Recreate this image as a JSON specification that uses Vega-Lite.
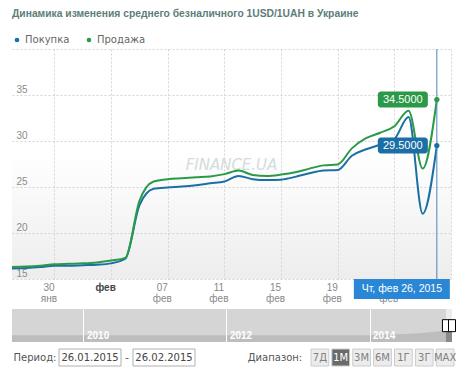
{
  "$schema": "https://vega.github.io/schema/vega-lite/v6.json",
  "padding": {"left": 8, "top": 8, "right": 0, "bottom": 0},
  "background": "#ffffff",
  "title": {"text": "Динамика изменения среднего безналичного 1USD/1UAH в Украине", "anchor": "start", "dx": 4, "font": "Liberation Sans", "fontSize": 10.3, "fontWeight": "bold", "color": "#5c7d7a", "offset": 16},
  "config": {"view": {"stroke": null}, "font": "Liberation Sans", "concat": {"spacing": 6}},
  "spacing": 6,
  "datasets": {
    "rates": [
      {"date": "2015/01/27", "series": "Покупка", "value": 16.15}, {"date": "2015/01/27", "series": "Продажа", "value": 16.3},
      {"date": "2015/01/28", "series": "Покупка", "value": 16.2}, {"date": "2015/01/28", "series": "Продажа", "value": 16.35},
      {"date": "2015/01/29", "series": "Покупка", "value": 16.3}, {"date": "2015/01/29", "series": "Продажа", "value": 16.45},
      {"date": "2015/01/30", "series": "Покупка", "value": 16.45}, {"date": "2015/01/30", "series": "Продажа", "value": 16.6},
      {"date": "2015/01/31", "series": "Покупка", "value": 16.45}, {"date": "2015/01/31", "series": "Продажа", "value": 16.65},
      {"date": "2015/02/01", "series": "Покупка", "value": 16.5}, {"date": "2015/02/01", "series": "Продажа", "value": 16.7},
      {"date": "2015/02/02", "series": "Покупка", "value": 16.55}, {"date": "2015/02/02", "series": "Продажа", "value": 16.8},
      {"date": "2015/02/03", "series": "Покупка", "value": 16.7}, {"date": "2015/02/03", "series": "Продажа", "value": 17.0},
      {"date": "2015/02/04", "series": "Покупка", "value": 17.2}, {"date": "2015/02/04", "series": "Продажа", "value": 17.3},
      {"date": "2015/02/05", "series": "Покупка", "value": 23.0}, {"date": "2015/02/05", "series": "Продажа", "value": 23.5},
      {"date": "2015/02/06", "series": "Покупка", "value": 24.8}, {"date": "2015/02/06", "series": "Продажа", "value": 25.6},
      {"date": "2015/02/07", "series": "Покупка", "value": 24.95}, {"date": "2015/02/07", "series": "Продажа", "value": 25.85},
      {"date": "2015/02/08", "series": "Покупка", "value": 25.05}, {"date": "2015/02/08", "series": "Продажа", "value": 25.95},
      {"date": "2015/02/09", "series": "Покупка", "value": 25.2}, {"date": "2015/02/09", "series": "Продажа", "value": 26.05},
      {"date": "2015/02/10", "series": "Покупка", "value": 25.4}, {"date": "2015/02/10", "series": "Продажа", "value": 26.15},
      {"date": "2015/02/11", "series": "Покупка", "value": 25.6}, {"date": "2015/02/11", "series": "Продажа", "value": 26.4},
      {"date": "2015/02/12", "series": "Покупка", "value": 26.2}, {"date": "2015/02/12", "series": "Продажа", "value": 26.8},
      {"date": "2015/02/13", "series": "Покупка", "value": 25.85}, {"date": "2015/02/13", "series": "Продажа", "value": 26.3},
      {"date": "2015/02/14", "series": "Покупка", "value": 25.75}, {"date": "2015/02/14", "series": "Продажа", "value": 26.2},
      {"date": "2015/02/15", "series": "Покупка", "value": 25.8}, {"date": "2015/02/15", "series": "Продажа", "value": 26.35},
      {"date": "2015/02/16", "series": "Покупка", "value": 26.1}, {"date": "2015/02/16", "series": "Продажа", "value": 26.6},
      {"date": "2015/02/17", "series": "Покупка", "value": 26.5}, {"date": "2015/02/17", "series": "Продажа", "value": 27.0},
      {"date": "2015/02/18", "series": "Покупка", "value": 26.8}, {"date": "2015/02/18", "series": "Продажа", "value": 27.35},
      {"date": "2015/02/19", "series": "Покупка", "value": 26.85}, {"date": "2015/02/19", "series": "Продажа", "value": 27.45},
      {"date": "2015/02/20", "series": "Покупка", "value": 28.4}, {"date": "2015/02/20", "series": "Продажа", "value": 29.2},
      {"date": "2015/02/21", "series": "Покупка", "value": 29.1}, {"date": "2015/02/21", "series": "Продажа", "value": 30.3},
      {"date": "2015/02/22", "series": "Покупка", "value": 29.6}, {"date": "2015/02/22", "series": "Продажа", "value": 30.9},
      {"date": "2015/02/23", "series": "Покупка", "value": 30.2}, {"date": "2015/02/23", "series": "Продажа", "value": 31.6},
      {"date": "2015/02/24", "series": "Покупка", "value": 32.6}, {"date": "2015/02/24", "series": "Продажа", "value": 33.3},
      {"date": "2015/02/25", "series": "Покупка", "value": 22.1}, {"date": "2015/02/25", "series": "Продажа", "value": 27.0},
      {"date": "2015/02/26", "series": "Покупка", "value": 29.5}, {"date": "2015/02/26", "series": "Продажа", "value": 34.5}
    ],
    "nav": [
      {"d": "2009/01/01", "v": 8.0}, {"d": "2010/01/01", "v": 8.0}, {"d": "2011/01/01", "v": 8.0},
      {"d": "2012/01/01", "v": 8.0}, {"d": "2013/01/01", "v": 8.0}, {"d": "2014/01/01", "v": 8.05},
      {"d": "2014/04/01", "v": 8.9}, {"d": "2014/07/01", "v": 9.6}, {"d": "2014/10/01", "v": 10.8},
      {"d": "2014/12/15", "v": 12.5}, {"d": "2015/01/26", "v": 13.4}, {"d": "2015/02/26", "v": 13.6}
    ]
  },
  "vconcat": [
    {
      "width": 439,
      "height": 230,
      "view": {"stroke": null, "fill": {"gradient": "linear", "x1": 0, "y1": 0, "x2": 0, "y2": 1, "stops": [{"offset": 0, "color": "#ffffff"}, {"offset": 0.45, "color": "#ffffff"}, {"offset": 1, "color": "#ededed"}]}},
      "data": {"name": "rates"},
      "layer": [
        {
          "mark": {"type": "text", "text": "FINANCE.UA", "font": "DejaVu Sans", "fontSize": 15, "fontStyle": "italic", "color": "#d3dcdc"},
          "data": {"values": [{}]},
          "encoding": {
            "x": {"datum": {"year": 2015, "month": 2, "date": 11, "hours": 12}, "type": "temporal"},
            "y": {"datum": 27.4, "type": "quantitative"}
          }
        },
        {
          "mark": {"type": "line", "interpolate": "monotone", "strokeWidth": 2},
          "encoding": {
            "x": {"field": "date", "type": "temporal",
              "scale": {"domain": [{"year": 2015, "month": 1, "date": 27}, {"year": 2015, "month": 2, "date": 27}], "nice": false},
              "axis": {
                "title": null,
                "values": [{"year": 2015, "month": 1, "date": 30}, {"year": 2015, "month": 2, "date": 3}, {"year": 2015, "month": 2, "date": 7}, {"year": 2015, "month": 2, "date": 11}, {"year": 2015, "month": 2, "date": 15}, {"year": 2015, "month": 2, "date": 19}, {"year": 2015, "month": 2, "date": 23}, {"year": 2015, "month": 2, "date": 27}],
                "labelExpr": "(month(datum.value) == 1 && date(datum.value) == 27) ? '' : (month(datum.value) == 1 && date(datum.value) == 3) ? 'фев' : [timeFormat(datum.value, '%d'), month(datum.value) == 0 ? 'янв' : 'фев']",
                "labelFontWeight": {"condition": {"test": "month(datum.value) == 1 && date(datum.value) == 3", "value": "bold"}, "value": "normal"},
                "labelColor": {"condition": {"test": "month(datum.value) == 1 && date(datum.value) == 3", "value": "#444444"}, "value": "#888888"},
                "labelFontSize": 10,
                "labelLineHeight": 11,
                "labelOffset": -6,
                "labelPadding": 3,
                "labelOverlap": false,
                "labelFlush": false,
                "domain": false,
                "ticks": false,
                "grid": true,
                "gridDash": [2, 2],
                "gridColor": "#d4d4d4"
              }
            },
            "y": {"field": "value", "type": "quantitative",
              "scale": {"domain": [15, 40], "nice": false, "zero": false},
              "axis": {
                "title": null,
                "values": [15, 20, 25, 30, 35, 40],
                "labelExpr": "datum.value == 40 ? '' : datum.label",
                "labelAlign": "left",
                "labelBaseline": "bottom",
                "labelPadding": -4,
                "labelOffset": -1,
                "labelColor": "#8c8c8c",
                "labelFontSize": 10,
                "domain": false,
                "ticks": false,
                "grid": true,
                "gridDash": [2, 2],
                "gridColor": "#d4d4d4"
              }
            },
            "color": {"field": "series", "type": "nominal",
              "scale": {"domain": ["Покупка", "Продажа"], "range": ["#1b6fa5", "#2a9a48"]},
              "legend": {"orient": "top", "title": null, "direction": "horizontal", "symbolType": "circle", "symbolSize": 22, "symbolStrokeWidth": 0, "labelFont": "DejaVu Sans", "labelFontSize": 10, "labelColor": "#666666", "labelOffset": 3, "columnPadding": 14, "offset": 3, "padding": 0}
            }
          }
        },
        {
          "mark": {"type": "rule", "color": "#4a85b8", "strokeWidth": 1},
          "data": {"values": [{}]},
          "encoding": {"x": {"datum": {"year": 2015, "month": 2, "date": 26}, "type": "temporal"}}
        },
        {
          "transform": [{"filter": "time(datum.date) == time(datetime(2015, 1, 26))"}],
          "mark": {"type": "point", "filled": true, "size": 28, "opacity": 1},
          "encoding": {
            "x": {"field": "date", "type": "temporal"},
            "y": {"field": "value", "type": "quantitative"},
            "color": {"field": "series", "type": "nominal"}
          }
        },
        {
          "transform": [{"filter": "time(datum.date) == time(datetime(2015, 1, 26))"}],
          "mark": {"type": "rect", "cornerRadius": 3, "xOffset": -59, "x2Offset": -9, "yOffset": -8, "y2Offset": 8, "opacity": 1},
          "encoding": {
            "x": {"field": "date", "type": "temporal"},
            "x2": {"field": "date"},
            "y": {"field": "value", "type": "quantitative"},
            "y2": {"field": "value"},
            "color": {"field": "series", "type": "nominal"}
          }
        },
        {
          "transform": [{"filter": "time(datum.date) == time(datetime(2015, 1, 26))"}],
          "mark": {"type": "text", "dx": -34, "dy": 0, "fontSize": 11, "color": "#ffffff"},
          "encoding": {
            "x": {"field": "date", "type": "temporal"},
            "y": {"field": "value", "type": "quantitative"},
            "text": {"field": "value", "type": "quantitative", "format": ".4f"}
          }
        },
        {
          "mark": {"type": "rect", "color": "#2a87d6", "xOffset": -83, "x2Offset": 13, "yOffset": 0, "y2Offset": 20},
          "data": {"values": [{}]},
          "encoding": {
            "x": {"datum": {"year": 2015, "month": 2, "date": 26}, "type": "temporal"},
            "x2": {"datum": {"year": 2015, "month": 2, "date": 26}},
            "y": {"datum": 15, "type": "quantitative"},
            "y2": {"datum": 15}
          }
        },
        {
          "mark": {"type": "text", "text": "Чт, фев 26, 2015", "color": "#ffffff", "fontSize": 10.5, "dx": -35, "dy": 10},
          "data": {"values": [{}]},
          "encoding": {
            "x": {"datum": {"year": 2015, "month": 2, "date": 26}, "type": "temporal"},
            "y": {"datum": 15, "type": "quantitative"}
          }
        }
      ]
    },
    {
      "width": 440,
      "height": 33,
      "view": {"stroke": null, "fill": "#d5d5d5"},
      "layer": [
        {
          "data": {"values": [{}]},
          "mark": {"type": "rect", "color": "#ececec"},
          "encoding": {
            "x": {"datum": {"year": 2015, "month": 1, "date": 26}, "type": "temporal",
              "scale": {"domain": [{"year": 2009, "month": 1, "date": 1}, {"year": 2015, "month": 2, "date": 26}], "nice": false},
              "axis": {"title": null, "values": [{"year": 2010, "month": 1, "date": 1}, {"year": 2012, "month": 1, "date": 1}, {"year": 2014, "month": 1, "date": 1}], "format": "%Y", "domain": false, "ticks": false, "grid": true, "gridColor": "#ffffff", "gridOpacity": 1, "gridWidth": 1, "labelColor": "#ffffff", "labelFontSize": 10, "labelFontWeight": "bold", "labelAlign": "left", "labelBaseline": "alphabetic", "labelPadding": -4, "labelOffset": 3, "zindex": 1}
            },
            "x2": {"datum": {"year": 2015, "month": 2, "date": 26}}
          }
        },
        {
          "data": {"name": "nav"},
          "mark": {"type": "area", "color": "#bdbdbd", "opacity": 1},
          "encoding": {
            "x": {"field": "d", "type": "temporal"},
            "y": {"field": "v", "type": "quantitative", "scale": {"domain": [0, 39.4], "nice": false}, "axis": null}
          }
        },
        {
          "data": {"name": "nav"},
          "transform": [{"filter": "time(datum.d) >= time(datetime(2015, 0, 26))"}],
          "mark": {"type": "area", "color": "#8a8a8a", "opacity": 1},
          "encoding": {
            "x": {"field": "d", "type": "temporal"},
            "y": {"field": "v", "type": "quantitative"}
          }
        },
        {
          "data": {"values": [{"d": "2015/01/26"}, {"d": "2015/02/26"}]},
          "mark": {"type": "rect", "fill": "#ffffff", "stroke": "#000000", "strokeWidth": 1, "xOffset": -3.5, "x2Offset": 3.5, "yOffset": -6, "y2Offset": 6},
          "encoding": {
            "x": {"field": "d", "type": "temporal"},
            "x2": {"field": "d"},
            "y": {"datum": 19.5, "type": "quantitative"},
            "y2": {"datum": 19.5}
          }
        }
      ]
    },
    {
      "spacing": 0,
      "hconcat": [
        {
          "width": 46,
          "height": 17,
          "data": {"values": [{}]},
          "mark": {"type": "text", "text": "Период:", "font": "DejaVu Sans", "fontSize": 10, "color": "#555555"}
        },
        {
          "width": 136,
          "height": 17,
          "data": {"values": [{"p": "26.01.2015"}, {"p": "26.02.2015"}]},
          "layer": [
            {
              "mark": {"type": "bar", "fill": "#ffffff", "stroke": "#b0b0b0", "strokeWidth": 1},
              "encoding": {"x": {"field": "p", "type": "nominal", "scale": {"paddingInner": 0.162, "paddingOuter": 0}, "axis": null}}
            },
            {
              "mark": {"type": "text", "font": "DejaVu Sans", "fontSize": 10, "color": "#444444"},
              "encoding": {"x": {"field": "p", "type": "nominal"}, "text": {"field": "p"}}
            },
            {
              "data": {"values": [{}]},
              "mark": {"type": "text", "text": "-", "dx": 6, "font": "DejaVu Sans", "fontSize": 11, "color": "#555555"},
              "encoding": {"x": {"datum": "26.01.2015", "type": "nominal", "bandPosition": 1}}
            }
          ]
        },
        {
          "width": 114,
          "height": 17,
          "data": {"values": [{}]},
          "mark": {"type": "text", "text": "Диапазон:", "dx": 22, "font": "DejaVu Sans", "fontSize": 10, "color": "#555555"}
        },
        {
          "width": 143,
          "height": 17,
          "data": {"values": [{"b": "7Д"}, {"b": "1М"}, {"b": "3М"}, {"b": "6М"}, {"b": "1Г"}, {"b": "3Г"}, {"b": "MAX"}]},
          "layer": [
            {
              "mark": {"type": "bar", "stroke": "#cccccc", "strokeWidth": 1},
              "encoding": {
                "x": {"field": "b", "type": "nominal", "sort": null, "scale": {"paddingInner": 0.15, "paddingOuter": 0}, "axis": null},
                "fill": {"condition": {"test": "datum.b == '1М'", "value": "#6a6a6a"}, "value": "#ececec"}
              }
            },
            {
              "mark": {"type": "text", "font": "DejaVu Sans", "fontSize": 10},
              "encoding": {
                "x": {"field": "b", "type": "nominal", "sort": null},
                "text": {"field": "b"},
                "color": {"condition": {"test": "datum.b == '1М'", "value": "#ffffff"}, "value": "#808080"}
              }
            }
          ]
        }
      ]
    }
  ]
}
